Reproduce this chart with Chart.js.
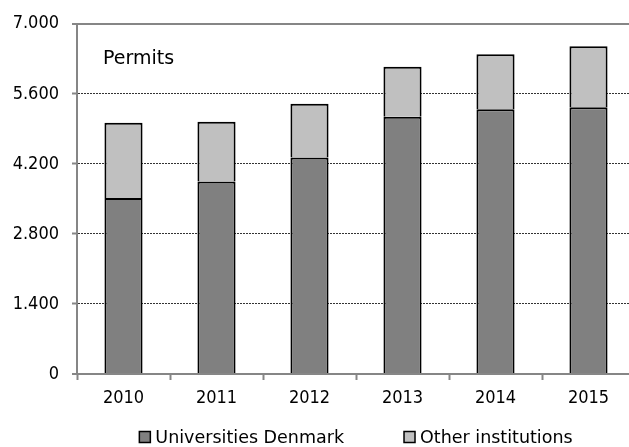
<!DOCTYPE html>
<html>
<head>
<meta charset="utf-8">
<script src="https://cdn.jsdelivr.net/npm/chart.js@4/dist/chart.umd.min.js"></script>
<style>
  html, body { margin: 0; padding: 0; background: #fff; overflow: hidden; }
  #wrap { position: relative; width: 640px; height: 447px; }
</style>
</head>
<body>
<div id="wrap"><canvas id="permits" width="640" height="447"></canvas></div>
<script>
const years = ['2010', '2011', '2012', '2013', '2014', '2015']
const universities = [3520, 3850, 4330, 5140, 5290, 5330]
const others = [1500, 1190, 1070, 1000, 1100, 1220]
const seriesNames = ['Universities Denmark', 'Other institutions']
const boxText = 'Permits'

const FONT = "'DejaVu Sans Condensed', 'DejaVu Sans', sans-serif"
const WIDE_FONT = "'DejaVu Sans', sans-serif"
const AXIS_GREY = '#868686'

// Danish style thousands separator: 4200 -> 4.200
function fmt(v) {
    return String(v).replace(/\B(?=(\d{3})+(?!\d))/g, '.')
}

// legend under the axis + the "Permits" text in the plot
const extras = {
    id: 'extras',
    afterDraw(chart) {
        const ctx = chart.ctx
        const area = chart.chartArea
        ctx.save()
        ctx.font = '19px ' + WIDE_FONT
        ctx.textBaseline = 'middle'
        ctx.textAlign = 'left'
        ctx.fillStyle = '#000'
        ctx.fillText(boxText, area.left + 26, area.top + 35)

        ctx.font = '17.5px ' + WIDE_FONT
        const box = 11, gap = 5, spacing = 60
        const items = chart.data.datasets.map(function (ds) {
            return {
                text: ds.label,
                color: ds.backgroundColor,
                w: box + gap + ctx.measureText(ds.label).width
            }
        })
        let total = spacing * (items.length - 1)
        items.forEach(function (it) { total += it.w })
        let x = (area.left + area.right) / 2 - total / 2
        const y = area.bottom + 63
        items.forEach(function (it) {
            ctx.fillStyle = it.color
            ctx.fillRect(x, y - box / 2, box, box)
            ctx.strokeStyle = '#000'
            ctx.lineWidth = 1.5
            ctx.strokeRect(x, y - box / 2, box, box)
            ctx.fillStyle = '#000'
            ctx.fillText(it.text, x + box + gap, y + 1)
            x += it.w + spacing
        })
        ctx.restore()
    }
}

const data = {
    labels: years,
    datasets: [{
        label: seriesNames[0],
        data: universities,
        backgroundColor: '#808080',
        borderColor: '#000',
        borderWidth: 2
    },
    {
        label: seriesNames[1],
        data: others,
        backgroundColor: '#c0c0c0',
        borderColor: '#000',
        borderWidth: 2
    }]
}

const options = {
    responsive: false,
    animation: false,
    categoryPercentage: 1,
    barPercentage: 0.41,
    layout: {
        padding: { top: 23, right: 5, left: 0, bottom: 0 }
    },
    plugins: {
        legend: { display: false },
        tooltip: { enabled: false }
    },
    scales: {
        x: {
            stacked: true,
            afterFit: function (scale) { scale.height = 73 },
            grid: {
                drawOnChartArea: false,
                offset: true,
                tickLength: 6,
                tickColor: AXIS_GREY,
                tickWidth: 2
            },
            border: { color: AXIS_GREY, width: 2 },
            ticks: {
                color: '#000',
                padding: 8,
                maxRotation: 0,
                font: { family: FONT, size: 18 }
            }
        },
        y: {
            stacked: true,
            min: 0,
            max: 7000,
            afterFit: function (scale) { scale.width = 77 },
            grid: {
                color: function (c) {
                    const v = c.tick ? c.tick.value : 0
                    return (v === 7000 || v === 0) ? AXIS_GREY : '#333'
                },
                lineWidth: function (c) {
                    const v = c.tick ? c.tick.value : 0
                    return (v === 7000 || v === 0) ? 2 : 1
                },
                tickLength: 5,
                tickColor: AXIS_GREY,
                tickWidth: 2
            },
            border: {
                color: AXIS_GREY,
                width: 2,
                dash: function (c) {
                    const v = c.tick ? c.tick.value : 0
                    return (v === 7000 || v === 0) ? [] : [2, 1]
                }
            },
            ticks: {
                stepSize: 1400,
                color: '#000',
                padding: 13,
                font: { family: FONT, size: 18 },
                callback: function (value) { return fmt(value) }
            }
        }
    }
}

new Chart(document.getElementById('permits'), {
    type: 'bar',
    data: data,
    options: options,
    plugins: [extras]
})
</script>
</body>
</html>
